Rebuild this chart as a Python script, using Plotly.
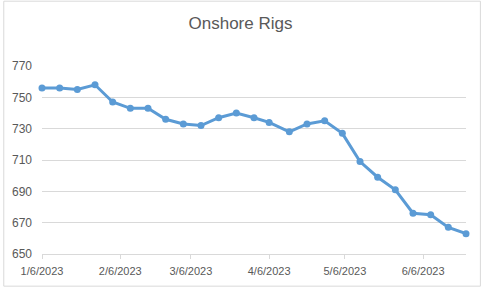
import plotly.graph_objects as go

dates = ["2023-01-06", "2023-01-13", "2023-01-20", "2023-01-27", "2023-02-03",
         "2023-02-10", "2023-02-17", "2023-02-24", "2023-03-03", "2023-03-10",
         "2023-03-17", "2023-03-24", "2023-03-31", "2023-04-06", "2023-04-14",
         "2023-04-21", "2023-04-28", "2023-05-05", "2023-05-12", "2023-05-19",
         "2023-05-26", "2023-06-02", "2023-06-09", "2023-06-16", "2023-06-23"]
rigs = [756, 756, 755, 758, 747, 743, 743, 736, 733, 732, 737, 740, 737, 734,
        728, 733, 735, 727, 709, 699, 691, 676, 675, 667, 663]
tick_dates = ["2023-01-06", "2023-02-06", "2023-03-06", "2023-04-06", "2023-05-06", "2023-06-06"]
tick_labels = ["1/6/2023", "2/6/2023", "3/6/2023", "4/6/2023", "5/6/2023", "6/6/2023"]

W, H = 481, 289
ml, mr, mt, mb = 39, 15, 66, 33
pw, ph = W - ml - mr, H - mt - mb

fig = go.Figure(go.Scatter(
    x=dates, y=rigs, mode="lines+markers",
    line=dict(color="#5B9BD5", width=3),
    marker=dict(color="#5B9BD5", size=7),
    cliponaxis=False,
))

fig.update_layout(
    width=W, height=H,
    margin=dict(l=ml, r=mr, t=mt, b=mb),
    paper_bgcolor="white", plot_bgcolor="white",
    showlegend=False,
    font=dict(family="Liberation Sans, Arial, sans-serif", color="#595959", size=12),
    title=dict(text="Onshore Rigs", x=0.5, xanchor="center", y=1 - 23 / H, yanchor="middle",
               font=dict(size=17, color="#595959", family="Liberation Sans, Arial, sans-serif")),
    xaxis=dict(type="date", range=["2023-01-06", "2023-06-23"],
               tickvals=tick_dates, ticktext=tick_labels,
               showgrid=False, zeroline=False,
               showline=True, linecolor="#d9d9d9", linewidth=1,
               ticks="outside", ticklen=4, tickcolor="#d9d9d9",
               ticklabelstandoff=3,
               tickfont=dict(size=11, color="#595959")),
    yaxis=dict(range=[650, 770], dtick=20, tick0=650,
               showgrid=True, gridcolor="#d9d9d9", gridwidth=1,
               zeroline=False, showline=False, ticks="",
               ticklabelstandoff=9,
               tickfont=dict(size=12, color="#595959")),
    shapes=[dict(type="rect", xref="paper", yref="paper",
                 x0=(0.5 - ml) / pw, x1=(W - 0.5 - ml) / pw,
                 y0=-(H - 0.5 - (mt + ph)) / ph, y1=(mt + ph - 0.5) / ph,
                 line=dict(color="#d9d9d9", width=1), layer="below")],
)

fig.write_html("out.html")
